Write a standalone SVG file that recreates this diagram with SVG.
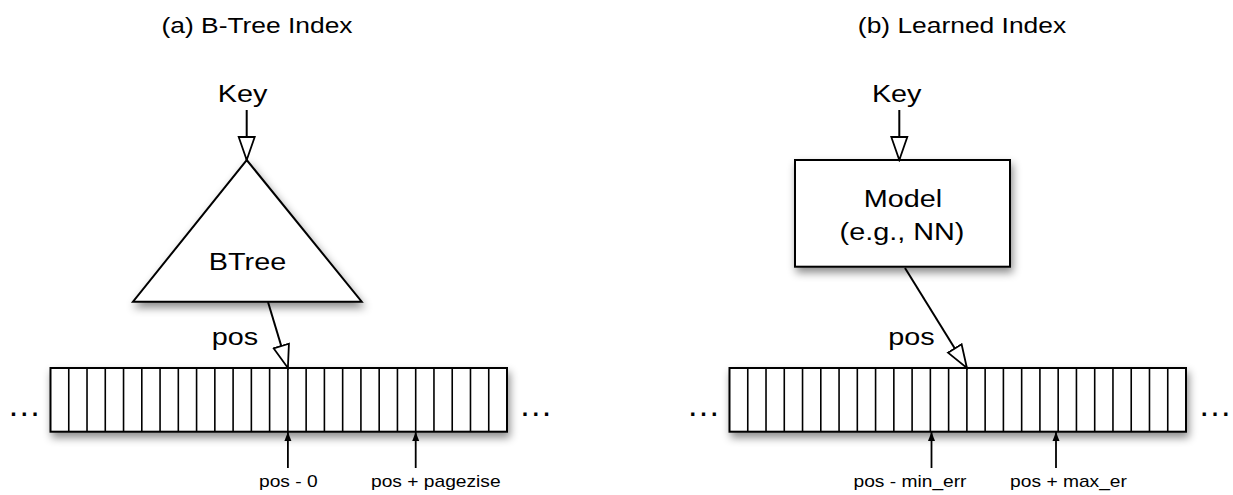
<svg xmlns="http://www.w3.org/2000/svg" width="1233" height="495" viewBox="0 0 1233 495">
<style>
text{font-family:"Liberation Sans",Arial,Helvetica,sans-serif;fill:#000}
.t{font-size:22px}
.m{font-size:24px}
.s{font-size:16px}
.dots{font-size:34px}
.shape{fill:#fff;stroke:#000;stroke-width:2;filter:url(#sh)}
.div{stroke:#000;stroke-width:1.6}
.conn{stroke:#000;stroke-width:2;fill:none}
.open{marker-end:url(#open)}
.up{stroke-width:1.8;marker-end:url(#solid)}
</style>
<defs>
<filter id="sh" x="-20%" y="-20%" width="140%" height="160%">
<feDropShadow dx="2" dy="5" stdDeviation="4" flood-color="#000" flood-opacity="0.45"/>
</filter>
<marker id="open" markerUnits="userSpaceOnUse" markerWidth="26" markerHeight="20" viewBox="-1 -1 26 19" refX="23" refY="8" orient="auto">
<path d="M0,0 L23,8 L0,16 Z" fill="#fff" stroke="#000" stroke-width="1.8"/>
</marker>
<marker id="solid" markerUnits="userSpaceOnUse" markerWidth="10" markerHeight="8" viewBox="0 0 10 8" refX="9" refY="4" orient="auto">
<path d="M0,0.5 L9,4 L0,7.5 Z" fill="#000"/>
</marker>
</defs>

<g id="title-a"><text class="t" text-anchor="middle" transform="translate(257,33) scale(1.2,1)">(a) B-Tree Index</text></g>
<g id="title-b"><text class="t" text-anchor="middle" transform="translate(962,33) scale(1.2,1)">(b) Learned Index</text></g>

<g id="key-a"><text class="m" text-anchor="middle" transform="translate(242.5,101.7) scale(1.2,1)">Key</text></g>
<g id="key-b"><text class="m" text-anchor="middle" transform="translate(896.7,101.7) scale(1.2,1)">Key</text></g>

<g id="btree">
<polygon class="shape" points="246.7,160 361.7,301.7 133,301.7"/>
<text class="m" text-anchor="middle" transform="translate(247.5,270) scale(1.2,1)">BTree</text>
</g>

<g id="model">
<rect class="shape" x="795" y="160" width="215" height="106.7"/>
<text class="m" text-anchor="middle" transform="translate(903,206.7) scale(1.2,1)">Model</text>
<text class="m" text-anchor="middle" transform="translate(902,240) scale(1.2,1)">(e.g., NN)</text>
</g>

<g id="array-a">
<rect class="shape" x="50.5" y="368" width="456.5" height="63.7"/>
<path class="div" d="M68.76,368V431.7M87.02,368V431.7M105.28,368V431.7M123.54,368V431.7M141.8,368V431.7M160.06,368V431.7M178.32,368V431.7M196.58,368V431.7M214.84,368V431.7M233.1,368V431.7M251.36,368V431.7M269.62,368V431.7M287.88,368V431.7M306.14,368V431.7M324.4,368V431.7M342.66,368V431.7M360.92,368V431.7M379.18,368V431.7M397.44,368V431.7M415.7,368V431.7M433.96,368V431.7M452.22,368V431.7M470.48,368V431.7M488.74,368V431.7"/>
<text class="dots" text-anchor="middle" x="24.2" y="415.5">…</text>
<text class="dots" text-anchor="middle" x="535.8" y="415.5">…</text>
</g>

<g id="array-b">
<rect class="shape" x="729.5" y="368" width="456.5" height="63.7"/>
<path class="div" d="M747.76,368V431.7M766.02,368V431.7M784.28,368V431.7M802.54,368V431.7M820.8,368V431.7M839.06,368V431.7M857.32,368V431.7M875.58,368V431.7M893.84,368V431.7M912.1,368V431.7M930.36,368V431.7M948.62,368V431.7M966.88,368V431.7M985.14,368V431.7M1003.4,368V431.7M1021.66,368V431.7M1039.92,368V431.7M1058.18,368V431.7M1076.44,368V431.7M1094.7,368V431.7M1112.96,368V431.7M1131.22,368V431.7M1149.48,368V431.7M1167.74,368V431.7"/>
<text class="dots" text-anchor="middle" x="703.5" y="415.5">…</text>
<text class="dots" text-anchor="middle" x="1215" y="415.5">…</text>
</g>

<g id="connectors">
<line class="conn open" x1="246.7" y1="110" x2="246.7" y2="160"/>
<line class="conn open" x1="899.3" y1="110" x2="899.3" y2="160"/>
<line class="conn open" x1="268" y1="302" x2="287.9" y2="368"/>
<line class="conn open" x1="905" y1="268" x2="966.9" y2="368"/>
<line class="conn up" x1="287.9" y1="468" x2="287.9" y2="432"/>
<line class="conn up" x1="415.7" y1="468" x2="415.7" y2="432"/>
<line class="conn up" x1="931.5" y1="468" x2="931.5" y2="432"/>
<line class="conn up" x1="1056" y1="468" x2="1056" y2="432"/>
</g>

<g id="labels">
<text class="m" text-anchor="middle" transform="translate(235,345) scale(1.2,1)">pos</text>
<text class="m" text-anchor="middle" transform="translate(911.5,345) scale(1.2,1)">pos</text>
<text class="s" text-anchor="middle" transform="translate(288.3,486.7) scale(1.2,1)">pos - 0</text>
<text class="s" text-anchor="middle" transform="translate(435.8,486.7) scale(1.2,1)">pos + pagezise</text>
<text class="s" text-anchor="middle" transform="translate(910,486.7) scale(1.2,1)">pos - min_err</text>
<text class="s" text-anchor="middle" transform="translate(1068.5,486.7) scale(1.2,1)">pos + max_er</text>
</g>
</svg>
